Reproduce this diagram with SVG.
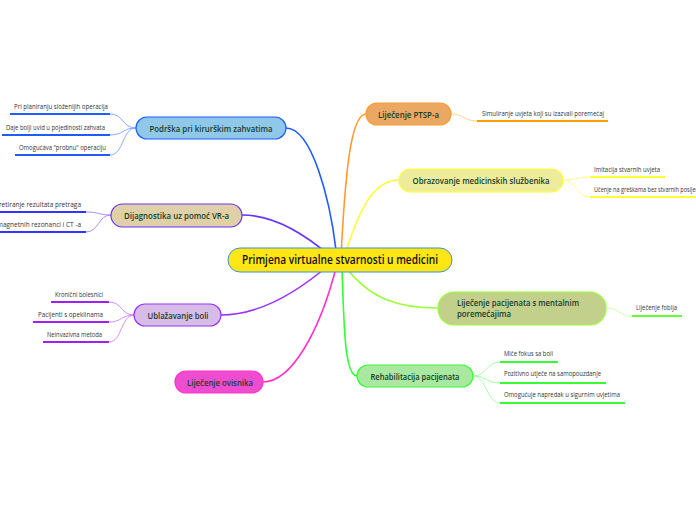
<svg xmlns="http://www.w3.org/2000/svg" width="696" height="520" viewBox="0 0 696 520">
<style>
.main{font-family:"Open Sans","Noto Sans","Liberation Sans",sans-serif;font-size:9.5px;font-weight:600;fill:#173d2b}
.root{font-family:"Open Sans","Noto Sans","Liberation Sans",sans-serif;font-size:12px;font-weight:600;fill:#111}
.leaf{font-family:"Open Sans","Noto Sans","Liberation Sans",sans-serif;font-size:6.5px;fill:#333}
.c{fill:none;stroke-width:1.6;stroke-linecap:round}
.s{fill:none;stroke-width:0.9}
.u{stroke-width:2;fill:none}
</style>
<rect width="696" height="520" fill="#ffffff"/>
<g id="connectors">
<path class="c" stroke="#1f5cff" d="M336 250 C330 200 312 128 286 128"/>
<path class="c" stroke="#ff9933" d="M341 256 C345 180 350 114 366 114"/>
<path class="c" stroke="#ffff33" d="M344 258 C360 205 375 180 399 180"/>
<path class="c" stroke="#6633ff" d="M330 256 C300 230 270 215 242 215"/>
<path class="c" stroke="#9933ff" d="M330 264 C300 290 262 315 221 315"/>
<path class="c" stroke="#ff33cc" d="M336 268 C320 330 292 382 263 382"/>
<path class="c" stroke="#99ff33" d="M345 266 C370 300 400 308 438 308"/>
<path class="c" stroke="#33ff33" d="M342 268 C344 330 345 376 357 376"/>
<g stroke="#7f9fff" class="s">
<path d="M136 128 C122 128 124 114 110 114"/>
<path d="M136 128 C122 128 124 135 110 135"/>
<path d="M136 128 C122 128 124 155 110 155"/>
</g>
<g stroke="#a080ff" class="s">
<path d="M111 215 C98 215 99 212 86 212"/>
<path d="M111 215 C98 215 99 232 86 232"/>
</g>
<g stroke="#cc80ff" class="s">
<path d="M134 315 C121 315 122 302 109 302"/>
<path d="M134 315 C121 315 122 322 109 322"/>
<path d="M134 315 C121 315 122 342 109 342"/>
</g>
<g stroke="#ffcc80" class="s">
<path d="M451 114 C464 114 464 121 477 121"/>
</g>
<g stroke="#ffff80" class="s">
<path d="M563 180 C576 180 577 177 590 177"/>
<path d="M563 180 C576 180 577 197 590 197"/>
</g>
<g stroke="#ccff99" class="s">
<path d="M606 308 C619 308 619 316 632 316"/>
</g>
<g stroke="#99ff99" class="s">
<path d="M473 376 C486 376 487 362 500 362"/>
<path d="M473 376 C486 376 487 383 500 383"/>
<path d="M473 376 C486 376 487 403 500 403"/>
</g>
</g>
<g id="root">
<rect x="228" y="248" width="224" height="24" rx="12" fill="#ffe614" stroke="#3d8fd6" stroke-width="1"/>
<text class="root" x="340" y="264.2" text-anchor="middle" textLength="196" lengthAdjust="spacingAndGlyphs">Primjena virtualne stvarnosti u medicini</text>
</g>
<g id="podrska">
<rect x="136" y="117" width="150" height="22" rx="11" fill="#8fc8e8" stroke="#1f5cff" stroke-width="1.2"/>
<text class="main" x="211" y="131.5" text-anchor="middle" textLength="123" lengthAdjust="spacingAndGlyphs">Podrška pri kirurškim zahvatima</text>
</g>
<g id="podrska-1"><line class="u" x1="10" y1="114" x2="110" y2="114" stroke="#1f5cff"/><text class="leaf" x="14" y="109.2" textLength="94" lengthAdjust="spacingAndGlyphs">Pri planiranju složenijih operacija</text></g>
<g id="podrska-2"><line class="u" x1="2" y1="135" x2="110" y2="135" stroke="#1f5cff"/><text class="leaf" x="6" y="130.2" textLength="99" lengthAdjust="spacingAndGlyphs">Daje bolji uvid u pojedinosti zahvata</text></g>
<g id="podrska-3"><line class="u" x1="15" y1="155" x2="110" y2="155" stroke="#1f5cff"/><text class="leaf" x="19" y="150.2" textLength="87" lengthAdjust="spacingAndGlyphs">Omogućava "probnu" operaciju</text></g>
<g id="dijagnostika">
<rect x="111" y="204" width="131" height="23" rx="11.5" fill="#e0d0a8" stroke="#6633ff" stroke-width="1.2"/>
<text class="main" x="176.5" y="218.8" text-anchor="middle" textLength="105" lengthAdjust="spacingAndGlyphs">Dijagnostika uz pomoć VR-a</text>
</g>
<g id="dijagnostika-1"><line class="u" x1="0" y1="212" x2="86" y2="212" stroke="#3333ff"/><text class="leaf" x="81" y="207.2" text-anchor="end">Interpretiranje rezultata pretraga</text></g>
<g id="dijagnostika-2"><line class="u" x1="0" y1="232" x2="86" y2="232" stroke="#3333ff"/><text class="leaf" x="81" y="227.2" text-anchor="end">Slika magnetnih rezonanci i CT -a</text></g>
<g id="ublazavanje">
<rect x="134" y="304" width="87" height="22" rx="11" fill="#d8bce8" stroke="#9933ff" stroke-width="1.2"/>
<text class="main" x="178" y="318.5" text-anchor="middle" textLength="61" lengthAdjust="spacingAndGlyphs">Ublažavanje boli</text>
</g>
<g id="ublazavanje-1"><line class="u" x1="51" y1="302" x2="109" y2="302" stroke="#a020f0"/><text class="leaf" x="55" y="297.2" textLength="48" lengthAdjust="spacingAndGlyphs">Kronični bolesnici</text></g>
<g id="ublazavanje-2"><line class="u" x1="33" y1="322" x2="109" y2="322" stroke="#a020f0"/><text class="leaf" x="38" y="317.2" textLength="65" lengthAdjust="spacingAndGlyphs">Pacijenti s opeklinama</text></g>
<g id="ublazavanje-3"><line class="u" x1="43" y1="342" x2="109" y2="342" stroke="#a020f0"/><text class="leaf" x="47" y="337.2" textLength="55" lengthAdjust="spacingAndGlyphs">Neinvazivna metoda</text></g>
<g id="ovisnika">
<rect x="175" y="371" width="88" height="22" rx="11" fill="#f04cd0" stroke="#ff33cc" stroke-width="1.2"/>
<text class="main" x="220" y="385.5" text-anchor="middle" textLength="66" lengthAdjust="spacingAndGlyphs">Liječenje ovisnika</text>
</g>
<g id="ptsp">
<rect x="366" y="103" width="85" height="22" rx="11" fill="#eaa862" stroke="#ff9933" stroke-width="1.2"/>
<text class="main" x="408.5" y="117.5" text-anchor="middle" textLength="61" lengthAdjust="spacingAndGlyphs">Liječenje PTSP-a</text>
</g>
<g id="ptsp-1"><line class="u" x1="477" y1="121" x2="608" y2="121" stroke="#ff9900"/><text class="leaf" x="482" y="116.2" textLength="122" lengthAdjust="spacingAndGlyphs">Simuliranje uvjeta koji su izazvali poremećaj</text></g>
<g id="obrazovanje">
<rect x="399" y="169" width="164" height="23" rx="11.5" fill="#ecec9c" stroke="#ffff33" stroke-width="1.2"/>
<text class="main" x="481" y="184" text-anchor="middle" textLength="137" lengthAdjust="spacingAndGlyphs">Obrazovanje medicinskih službenika</text>
</g>
<g id="obrazovanje-1"><line class="u" x1="590" y1="177" x2="665" y2="177" stroke="#ffff33"/><text class="leaf" x="594" y="172.2" textLength="66" lengthAdjust="spacingAndGlyphs">Imitacija stvarnih uvjeta</text></g>
<g id="obrazovanje-2"><line class="u" x1="590" y1="197" x2="696" y2="197" stroke="#ffff33"/><text class="leaf" x="594" y="192.2" textLength="112" lengthAdjust="spacingAndGlyphs">Učenje na greškama bez stvarnih posljedica</text></g>
<g id="mentalni">
<rect x="438" y="292" width="168" height="33" rx="16" fill="#c2d08c" stroke="#99ff33" stroke-width="1.2"/>
<text class="main" x="457" y="306" textLength="122" lengthAdjust="spacingAndGlyphs">Liječenje pacijenata s mentalnim</text>
<text class="main" x="457" y="317" textLength="54" lengthAdjust="spacingAndGlyphs">poremećajima</text>
</g>
<g id="mentalni-1"><line class="u" x1="632" y1="316" x2="682" y2="316" stroke="#66ff33"/><text class="leaf" x="636" y="310.2" textLength="41" lengthAdjust="spacingAndGlyphs">Liječenje fobija</text></g>
<g id="rehabilitacija">
<rect x="357" y="365" width="116" height="22" rx="11" fill="#a8e8a0" stroke="#33ff33" stroke-width="1.2"/>
<text class="main" x="415" y="379.5" text-anchor="middle" textLength="89" lengthAdjust="spacingAndGlyphs">Rehabilitacija pacijenata</text>
</g>
<g id="rehabilitacija-1"><line class="u" x1="500" y1="362" x2="558" y2="362" stroke="#33ff33"/><text class="leaf" x="504" y="356.2" textLength="49" lengthAdjust="spacingAndGlyphs">Miče fokus sa boli</text></g>
<g id="rehabilitacija-2"><line class="u" x1="500" y1="383" x2="606" y2="383" stroke="#33ff33"/><text class="leaf" x="504" y="376.2" textLength="97" lengthAdjust="spacingAndGlyphs">Pozitivno utječe na samopouzdanje</text></g>
<g id="rehabilitacija-3"><line class="u" x1="500" y1="403" x2="625" y2="403" stroke="#33ff33"/><text class="leaf" x="504" y="397.2" textLength="116" lengthAdjust="spacingAndGlyphs">Omogućuje napredak u sigurnim uvjetima</text></g>
</svg>
